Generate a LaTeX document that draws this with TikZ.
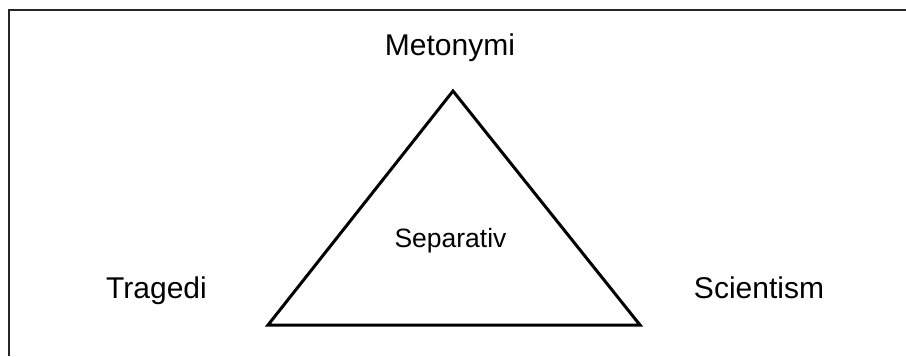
\documentclass[tikz,border=0pt]{standalone}
\usepackage{fontspec}
\setmainfont{Liberation Sans}
\begin{document}
\begin{tikzpicture}[x=1bp,y=-1bp,
  biglabel/.style={anchor=base,inner sep=0pt,font=\fontsize{30bp}{36bp}\selectfont},
  midlabel/.style={anchor=base,inner sep=0pt,font=\fontsize{26.5bp}{32bp}\selectfont},
  frameline/.style={line width=1.3bp,draw=black!85},
  triline/.style={line width=3bp,line join=miter}]
\useasboundingbox (0,0) rectangle (906,356);
\coordinate (fb) at (9,356);
\coordinate (fc) at (9,10);
\coordinate (fr) at (906,10);
\draw[frameline] (fb) -- (fc) -- (fr);
\coordinate (apex) at (453,91);
\coordinate (bl) at (268,325);
\coordinate (br) at (640,325);
\draw[triline] (apex) -- (br) -- (bl) -- cycle;
\node[biglabel] (met) at (450,55) {Metonymi};
\node[biglabel] (tra) at (156.5,298) {Tragedi};
\node[biglabel] (sci) at (759,298) {Scientism};
\node[midlabel] (sep) at (450.5,247) {Separativ};
\end{tikzpicture}
\end{document}
